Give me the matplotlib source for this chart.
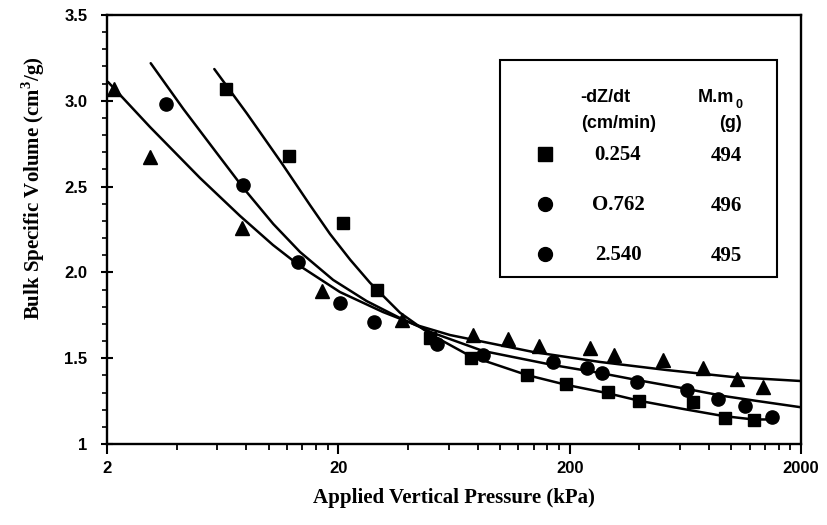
import matplotlib
matplotlib.use("Agg")
import matplotlib.pyplot as plt
from matplotlib.lines import Line2D
from matplotlib.patches import Rectangle
from matplotlib.ticker import FixedLocator, MultipleLocator, NullFormatter

plt.rcParams["mathtext.fontset"] = "custom"
plt.rcParams["mathtext.rm"] = "Liberation Serif:bold"
plt.rcParams["mathtext.bf"] = "Liberation Serif:bold"

# ---------------- data ----------------
# -dZ/dt = 0.254 cm/min (squares)
sq_x = [6.54, 12.2, 21.0, 29.3, 49.8, 74.7, 130.6, 192.9, 294, 400, 681, 940, 1254]
sq_y = [3.07, 2.68, 2.29, 1.90, 1.62, 1.50, 1.40, 1.35, 1.305, 1.25, 1.245, 1.15, 1.14]
# -dZ/dt = 0.762 cm/min (circles)
ci_x = [3.59, 7.75, 13.4, 20.3, 28.5, 53.3, 84.7, 170, 237, 275, 390, 641, 879, 1147, 1495]
ci_y = [2.98, 2.51, 2.06, 1.82, 1.71, 1.58, 1.52, 1.48, 1.44, 1.415, 1.36, 1.315, 1.26, 1.22, 1.155]
# -dZ/dt = 2.540 cm/min (triangles)
tr_x = [2.14, 3.07, 7.7, 17.0, 37.6, 76.7, 108.7, 148, 245, 312, 505, 752, 1055, 1368]
tr_y = [3.07, 2.67, 2.26, 1.89, 1.72, 1.635, 1.61, 1.57, 1.56, 1.52, 1.49, 1.44, 1.38, 1.33]

# fitted curves
fitA_x = [5.82, 8.04, 11.38, 15.09, 18.41, 22.5, 27.4, 36.96, 49.8, 74.2, 130.6, 194.4, 289.4, 403, 620, 923, 1245, 1441]
fitA_y = [3.185, 2.927, 2.637, 2.392, 2.224, 2.074, 1.940, 1.765, 1.641, 1.513, 1.402, 1.344, 1.297, 1.251, 1.204, 1.163, 1.143, 1.143]
fitB_x = [3.09, 4.28, 5.96, 7.77, 10.47, 13.66, 19.0, 26.5, 36.96, 51.3, 84.5, 169.6, 270.7, 390, 641, 923, 1288, 2000]
fitB_y = [3.219, 2.952, 2.696, 2.492, 2.282, 2.119, 1.956, 1.833, 1.734, 1.647, 1.542, 1.460, 1.414, 1.373, 1.321, 1.280, 1.251, 1.214]
fitC_x = [2.02, 3.07, 5.05, 7.52, 10.43, 13.66, 20.3, 31.2, 43.5, 60.8, 139.4, 270.7, 526, 1021, 2000]
fitC_y = [3.110, 2.847, 2.550, 2.329, 2.160, 2.037, 1.886, 1.769, 1.693, 1.635, 1.536, 1.478, 1.431, 1.390, 1.367]

x_major = [2, 20, 200, 2000]
x_major_labels = ["2", "20", "200", "2000"]
x_minor = [4, 6, 8, 10, 12, 14, 16, 18, 40, 60, 80, 100, 120, 140, 160, 180,
           400, 600, 800, 1000, 1200, 1400, 1600, 1800]
y_major = [1, 1.5, 2.0, 2.5, 3.0, 3.5]
y_major_labels = ["1", "1.5", "2.0", "2.5", "3.0", "3.5"]

legend_rates = ["0.254", "O.762", "2.540"]
legend_mass = ["494", "496", "495"]
legend_markers = ["s", "o", "o"]

# ---------------- figure ----------------
W, H = 827, 525
fig = plt.figure(figsize=(W / 100, H / 100), dpi=100)
fig.patch.set_facecolor("white")

def fx(px):
    return px / W

def fy(py):
    return 1 - py / H

ax = fig.add_axes([fx(107), fy(444), 694 / W, 429 / H])
ax.set_xscale("log")
ax.set_xlim(2, 2000)
ax.set_ylim(1, 3.5)

sans = ["Liberation Sans", "DejaVu Sans"]
serif = ["Liberation Serif", "DejaVu Serif"]

# curves
for cx, cy in ((fitA_x, fitA_y), (fitB_x, fitB_y), (fitC_x, fitC_y)):
    ax.plot(cx, cy, color="black", lw=1.8, solid_capstyle="round", solid_joinstyle="round", zorder=2)

ax.plot(sq_x, sq_y, ls="none", marker="s", ms=9, color="black", zorder=3, clip_on=False)
ax.plot(ci_x, ci_y, ls="none", marker="o", ms=9.5, color="black", zorder=3, clip_on=False)
ax.plot(tr_x, tr_y, ls="none", marker="^", ms=10, color="black", zorder=3, clip_on=False)

# ticks
ax.xaxis.set_major_locator(FixedLocator(x_major))
ax.set_xticklabels(x_major_labels)
ax.xaxis.set_minor_locator(FixedLocator(x_minor))
ax.xaxis.set_minor_formatter(NullFormatter())
ax.yaxis.set_major_locator(FixedLocator(y_major))
ax.set_yticklabels(y_major_labels)
ax.yaxis.set_minor_locator(MultipleLocator(0.1))

ax.tick_params(axis="x", which="major", direction="out", length=7, width=1.5, pad=5)
ax.tick_params(axis="x", which="minor", direction="out", length=4.5, width=1.3)
ax.tick_params(axis="y", which="major", direction="inout", length=8, width=1.5, pad=10)
ax.tick_params(axis="y", which="minor", direction="out", length=3.5, width=1.2)
ax.tick_params(top=False, right=False, which="both")

for lab in ax.get_xticklabels() + ax.get_yticklabels():
    lab.set_fontfamily(sans)
    lab.set_fontweight("bold")
    lab.set_fontsize(12)

for sp in ax.spines.values():
    sp.set_linewidth(1.7)

ax.set_xlabel("Applied Vertical Pressure (kPa)", fontfamily=serif, fontweight="bold", fontsize=15)
ax.set_ylabel("Bulk Specific Volume (cm$^{3}$/g)", fontfamily=serif, fontweight="bold", fontsize=15)
ax.xaxis.set_label_coords(0.5, -0.102)
ax.yaxis.set_label_coords(-0.086, 0.597)

# ---------------- legend box ----------------
fig.add_artist(Rectangle((fx(500), fy(277)), (777 - 500) / W, (277 - 60) / H,
                         transform=fig.transFigure, fill=False, lw=1.5, ec="black"))

fig.text(fx(605), fy(98), "-dZ/dt", ha="center", va="center", fontfamily=sans, fontweight="bold", fontsize=13)
fig.text(fx(619), fy(123), "(cm/min)", ha="center", va="center", fontfamily=sans, fontweight="bold", fontsize=13)
fig.text(fx(716), fy(98), "M.m", ha="center", va="center", fontfamily=sans, fontweight="bold", fontsize=13)
fig.text(fx(739), fy(105), "0", ha="center", va="center", fontfamily=sans, fontweight="bold", fontsize=9)
fig.text(fx(731), fy(123), "(g)", ha="center", va="center", fontfamily=sans, fontweight="bold", fontsize=13)

row_y = [154, 204, 254]
for i, (rate, mass, mk) in enumerate(zip(legend_rates, legend_mass, legend_markers)):
    yy = row_y[i]
    fig.add_artist(Line2D([fx(545)], [fy(yy)], marker=mk, ms=10, color="black", ls="none",
                          transform=fig.transFigure))
    fig.text(fx(618), fy(yy + 1), rate, ha="center", va="center", fontfamily=serif, fontweight="bold", fontsize=15)
    fig.text(fx(726), fy(yy + 2), mass, ha="center", va="center", fontfamily=serif, fontweight="bold", fontsize=15)

fig.savefig("out.png", dpi=100, facecolor="white")
